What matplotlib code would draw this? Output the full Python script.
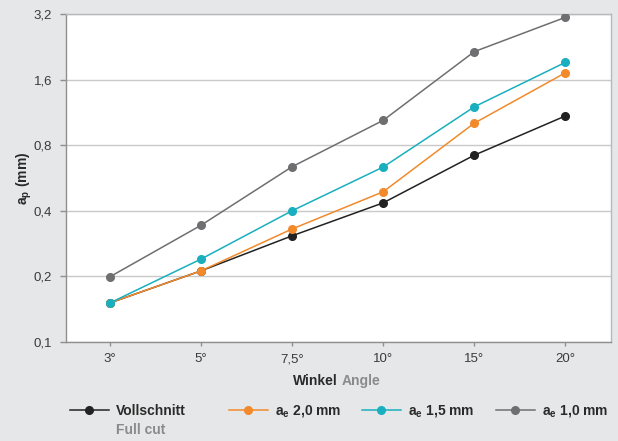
import matplotlib
matplotlib.use("Agg")
import matplotlib.pyplot as plt
from matplotlib.ticker import FixedLocator, FuncFormatter, NullLocator

plt.rcParams['font.family'] = ['Liberation Sans', 'DejaVu Sans']
plt.rcParams['mathtext.fontset'] = 'custom'
plt.rcParams['mathtext.rm'] = 'Liberation Sans'
plt.rcParams['mathtext.bf'] = 'Liberation Sans:bold'

categories = ["3°", "5°", "7,5°", "10°", "15°", "20°"]
vollschnitt = [0.151, 0.212, 0.307, 0.435, 0.72, 1.09]
ae_20 = [0.151, 0.212, 0.33, 0.489, 1.01, 1.72]
ae_15 = [0.151, 0.24, 0.40, 0.635, 1.20, 1.92]
ae_10 = [0.199, 0.343, 0.637, 1.04, 2.15, 3.09]
y_ticks = [0.1, 0.2, 0.4, 0.8, 1.6, 3.2]
y_tick_labels = ["0,1", "0,2", "0,4", "0,8", "1,6", "3,2"]

series = [
    (vollschnitt, "#222222", "Vollschnitt"),
    (ae_20, "#f28a2c", r"$\mathbf{a_e}$ 2,0 mm"),
    (ae_15, "#19afbf", r"$\mathbf{a_e}$ 1,5 mm"),
    (ae_10, "#6f6f71", r"$\mathbf{a_e}$ 1,0 mm"),
]

bg = "#e6e7e8"
fig = plt.figure(figsize=(6.18, 4.41), dpi=100, facecolor=bg)
ax = fig.add_axes([66/618, 1-342/441, (611-66)/618, (342-14)/441])
ax.set_facecolor("white")

x = list(range(len(categories)))
handles = []
for vals, col, lab in series:
    ln, = ax.plot(x, vals, color=col, lw=1.1, marker='o', ms=5.5, mec=col, mfc=col, zorder=3)
    handles.append((ln, lab))

ax.set_yscale('log', base=2)
ax.set_ylim(0.1, 3.2)
ax.yaxis.set_major_locator(FixedLocator(y_ticks))
ax.yaxis.set_minor_locator(NullLocator())
ax.yaxis.set_major_formatter(FuncFormatter(lambda v, p: y_tick_labels[y_ticks.index(min(y_ticks, key=lambda t: abs(t - v)))]))
ax.set_xlim(-0.48, 5.5)
ax.set_xticks(x)
ax.set_xticklabels(categories)

ax.grid(axis='y', color='#c9c9c9', lw=1.0)
ax.set_axisbelow(True)
for s in ['top', 'right']:
    ax.spines[s].set_color('#b8b8b8')
for s in ['left', 'bottom']:
    ax.spines[s].set_color('#8f8f8f')
for s in ax.spines.values():
    s.set_linewidth(1.0)

ax.tick_params(axis='y', length=4, width=1, color='#8f8f8f', pad=6, labelsize=9.5, labelcolor='#3a3a3a')
ax.tick_params(axis='x', length=3, width=1, color='#8f8f8f', pad=5, labelsize=9.5, labelcolor='#3a3a3a')

ax.set_ylabel(r"$\mathbf{a_p}$ (mm)", fontsize=10, fontweight='bold', color='#2a2a2a', labelpad=0)

# x label in two colors
fig.text(338/618, 1-381/441, "Winkel", ha='right', va='center', fontsize=10, fontweight='bold', color='#2a2a2a')
fig.text(342/618, 1-381/441, "Angle", ha='left', va='center', fontsize=10, fontweight='bold', color='#8a8a8c')

# legend entries
starts = [70, 229, 362, 496]
for (ln, lab), xs in zip(handles, starts):
    lg = fig.legend([ln], [lab], loc='center left', bbox_to_anchor=(xs/618, 1-411/441),
                    frameon=False, borderpad=0, borderaxespad=0, handlelength=2.8,
                    handletextpad=0.5, prop={'weight': 'bold', 'size': 10})
    for t in lg.get_texts():
        t.set_color('#2a2a2a')
fig.text(116/618, 1-430/441, "Full cut", ha='left', va='center', fontsize=10, fontweight='bold', color='#8a8a8c')

fig.savefig("out.png", dpi=100, facecolor=bg)
